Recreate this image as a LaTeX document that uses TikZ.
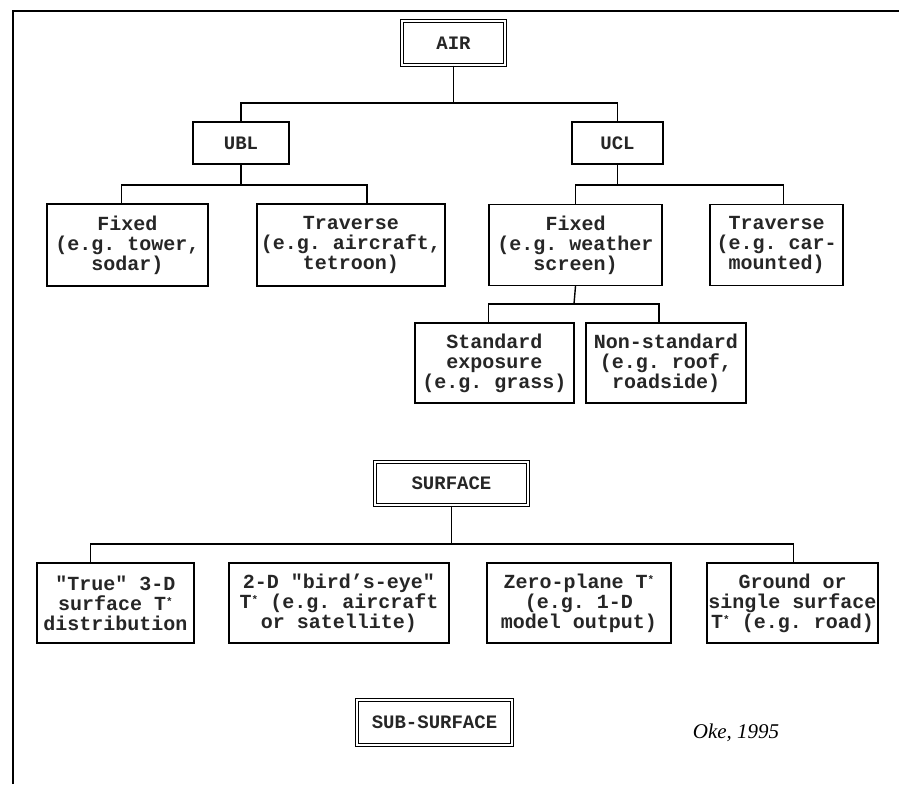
\documentclass[tikz,border=0pt]{standalone}
\usepackage{fontspec}
\setmainfont{Liberation Serif}
\setmonofont{Liberation Mono}
\usetikzlibrary{positioning,calc}
\newcommand{\tstar}{T\raisebox{0.45ex}{\fontsize{11}{11}\selectfont*}}

\begin{document}
\begin{tikzpicture}[x=1pt, y=-1pt, line width=1.4pt, font=\ttfamily\bfseries\fontsize{20}{20}\selectfont]
\tikzstyle{box}=[draw=black, line width=1.4pt, align=center, inner sep=0pt, text=black!85]
\tikzstyle{title}=[box, font=\ttfamily\bfseries\fontsize{19}{19}\selectfont]
\tikzstyle{bigbox}=[title, double, line width=1.5pt, double distance=1.3pt]
\useasboundingbox (0,0) rectangle (899,784);
\draw[line width=2pt] (13,784) -- (13,11) -- (899,11);

% air
\node[bigbox, minimum width=103, minimum height=44] (air)     at (453.5,43)  {AIR};
\node[title, minimum width=96, minimum height=42]   (ubl)     at (241,143)   {UBL};
\node[title, minimum width=91, minimum height=42]   (ucl)     at (617.5,143) {UCL};
\node[box, minimum width=161, minimum height=82]    (fixA)    at (127.5,245) {Fixed\\(e.g. tower,\\sodar)};
\node[box, minimum width=188, minimum height=82]    (travA)   at (351,245)   {Traverse\\(e.g. aircraft,\\tetroon)};
\node[box, minimum width=173, minimum height=81]    (fixB)    at (575.5,245) {Fixed\\(e.g. weather\\screen)};
\node[box, minimum width=133, minimum height=81]    (travB)   at (776.5,245) {Traverse\\(e.g. car-\\mounted)};
\node[box, minimum width=159, minimum height=80]    (std)     at (494.5,363) {Standard\\exposure\\(e.g. grass)};
\node[box, minimum width=160, minimum height=80]    (nonstd)  at (666,363)   {Non-standard\\(e.g. roof,\\roadside)};

% surface
\node[bigbox, minimum width=153, minimum height=43] (surface) at (451.5,483.5) {SURFACE};
\node[box, minimum width=157, minimum height=80]    (true3d)  at (115.5,603) {"True" 3-D\\surface \tstar\\distribution};
\node[box, minimum width=220, minimum height=80]    (bird)    at (339,603)   {2-D "bird’s-eye"\\\tstar{} (e.g. aircraft\\or satellite)};
\node[box, minimum width=184, minimum height=80]    (zero)    at (579,603)   {Zero-plane \tstar\\(e.g. 1-D\\model output)};
\node[box, minimum width=171, minimum height=80]    (ground)  at (792.5,603) {Ground or\\single surface\\\tstar{} (e.g. road)};

% sub-surface
\node[bigbox, minimum width=155, minimum height=45] (subsurf) at (434.5,722.5) {SUB-SURFACE};
\node[font=\rmfamily\itshape\fontsize{21}{21}\selectfont] (src) at (736,733) {Oke, 1995};

\coordinate (airbus) at (453.5,103);
\coordinate (ublbus) at (241,185);
\coordinate (uclbus) at (617.5,185);
\coordinate (fixbus) at (574,304);
\coordinate (surfbus) at (451.5,544);

\draw (air.south) -- (airbus);
\draw (ubl.north) |- (airbus) -| (ucl.north);
\draw (ubl.south) -- (ublbus);
\draw ($(fixA.north)+(-6,0)$) |- (ublbus) -| ($(travA.north)+(16,0)$);
\draw (ucl.south) -- (uclbus);
\draw (fixB.north) |- (uclbus) -| ($(travB.north)+(7,0)$);
\draw (fixB.south) -- (fixbus);
\draw ($(std.north)+(-6,0)$) |- (fixbus) -| ($(nonstd.north)+(-7,0)$);
\draw (surface.south) -- (surfbus);
\draw ($(true3d.north)+(-25,0)$) |- (surfbus) -| ($(ground.north)+(1,0)$);
\draw ($(bird.north)+(-24,0)$) -- ($(bird.north)+(-24,0)$ |- surfbus);
\draw ($(zero.north)+(-6,0)$) -- ($(zero.north)+(-6,0)$ |- surfbus);
\end{tikzpicture}
\end{document}
